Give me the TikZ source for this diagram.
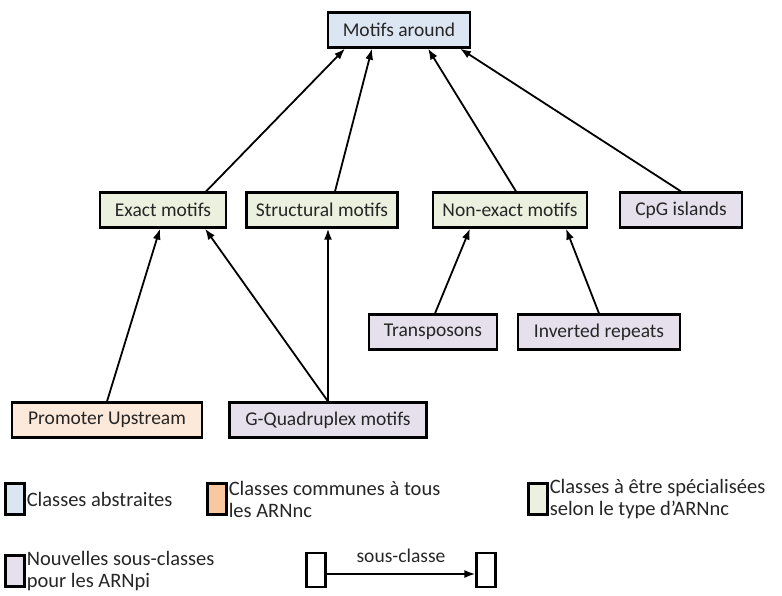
\documentclass[tikz,border=0pt]{standalone}
\usepackage{fontspec}
\setmainfont{Carlito}
\usetikzlibrary{arrows.meta}
\definecolor{abstr}{HTML}{DCE6F2}
\definecolor{commun}{HTML}{FDE9D9}
\definecolor{commsw}{HTML}{FAC8A0}
\definecolor{spec}{HTML}{EBF1DE}
\definecolor{nouv}{HTML}{E5E0EC}
\begin{document}
\begin{tikzpicture}[x=1pt,y=-1pt,
  classe/.style={draw,line width=2.2pt,minimum height=35pt,inner xsep=8pt,font=\fontsize{19.5}{22}\selectfont,text=black!85},
  sc/.style={-{Latex[length=11pt,width=8pt]},line width=1.8pt},
  swatch/.style={draw,line width=2.2pt,minimum width=19pt,minimum height=31pt,inner sep=0pt},
  legtext/.style={anchor=west,align=left,inner sep=1pt,font=\fontsize{20.5}{22}\selectfont,text=black!85}]
\useasboundingbox(0,0)rectangle(782,595);
% classes
\node[classe,fill=abstr,minimum width=142pt](around)at(399,30){Motifs around};
\node[classe,fill=spec,minimum width=126pt](exact)at(163,210){Exact motifs};
\node[classe,fill=spec,minimum width=151pt](struct)at(322,210){Structural motifs};
\node[classe,fill=spec,minimum width=154pt](nonexact)at(510,210){Non-exact motifs};
\node[classe,fill=nouv,minimum width=122pt](cpg)at(681,210){CpG islands};
\node[classe,fill=nouv,minimum width=128pt](transp)at(433,332){Transposons};
\node[classe,fill=nouv,minimum width=162pt](inverted)at(599,332){Inverted repeats};
\node[classe,fill=commun,minimum width=190pt](promoter)at(107,420){Promoter Upstream};
\node[classe,fill=nouv,minimum width=197pt](gquad)at(328,420){G-Quadruplex motifs};
% sous-classes
\draw[sc](exact.north east)++(-21,0)coordinate(e1)--([xshift=-54pt]around.south);
\draw[sc]([xshift=13pt]struct.north)--([xshift=-27pt]around.south);
\draw[sc]([xshift=6pt]nonexact.north)--([xshift=29pt]around.south);
\draw[sc](cpg.north)--([xshift=61pt]around.south);
\draw[sc](promoter.north)--([xshift=-3pt]exact.south);
\draw[sc](gquad.north)--([xshift=42pt]exact.south);
\draw[sc](gquad.north)--([xshift=6pt]struct.south);
\draw[sc]([xshift=2pt]transp.north)--([xshift=-40pt]nonexact.south);
\draw[sc](inverted.north)--([xshift=56pt]nonexact.south);
% legende
\node[swatch,fill=abstr](l1)at(15,499){};
\node[legtext](t1)at(l1.east){Classes abstraites};
\node[swatch,fill=commsw](l2)at(217,499){};
\node[legtext](t2)at(l2.east){Classes communes à tous\\les ARNnc};
\node[swatch,fill=spec](l3)at(538,499){};
\node[legtext](t3)at(l3.east){Classes à être spécialisées\\selon le type d'ARNnc};
\node[swatch,fill=nouv](l4)at(15,571){};
\node[legtext](t4)at(l4.east){Nouvelles sous-classes\\pour les ARNpi};
\node[swatch,fill=white,minimum height=34pt](la)at(316,570){};
\node[swatch,fill=white,minimum height=34pt](lb)at(486,570){};
\draw[sc]([yshift=-4pt]la.east)--([yshift=-4pt]lb.west)node[midway,above=7pt,font=\fontsize{19.5}{22}\selectfont,text=black!85](lbl){sous-classe};
\end{tikzpicture}
\end{document}
